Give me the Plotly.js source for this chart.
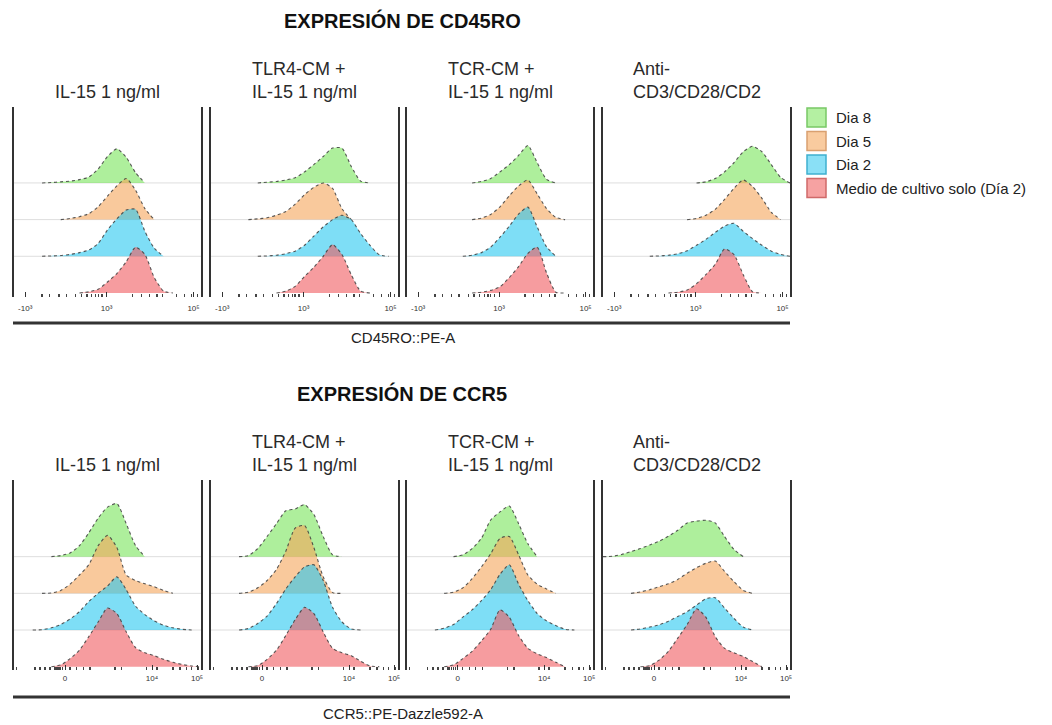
<!DOCTYPE html>
<html><head><meta charset="utf-8">
<script src="https://cdn.plot.ly/plotly-3.0.1.min.js"></script>
<style>html,body{margin:0;padding:0;background:#fff}#chart{width:1052px;height:725px}</style>
</head><body><div id="chart"></div>
<script>
// ---------------- DATA ----------------
const xGrid = [0,5,10,15,20,25,30,35,40,45,50,55,60,65,70,75,80,85,90,95,100];
const panelTitles = ["IL-15 1 ng/ml", "TLR4-CM +<br>IL-15 1 ng/ml", "TCR-CM +<br>IL-15 1 ng/ml", "Anti-<br>CD3/CD28/CD2"];
const seriesNames = ["Dia 8", "Dia 5", "Dia 2", "Medio de cultivo solo (Día 2)"];
const markerTitles = ["EXPRESIÓN DE CD45RO", "EXPRESIÓN DE CCR5"];
const axisTitles = ["CD45RO::PE-A", "CCR5::PE-Dazzle592-A"];

const cd45roTickVals = [6, 49.5, 96];
const cd45roTickText = ["-10³", "10³", "10⁵"];
const cd45roMinorTicks = [0, 15, 19, 24, 28, 33, 36, 39, 41.5, 43.5, 45, 47, 63.5, 68, 72.5, 76.5, 79.5, 87, 91, 95, 98, 100];
const ccr5TickVals = [27.3, 73.8, 97.9];
const ccr5TickText = ["0", "10⁴", "10⁵"];
const ccr5MinorTicks = [1.4, 11.2, 13.9, 16.6, 19.3, 22, 23, 24, 25, 26, 29.9, 33.5, 37, 40.6, 54, 57.6, 71, 76.4, 85, 88.8, 92.4, 95, 98.6];

// CD45RO histograms (one row per panel: IL-15, TLR4-CM, TCR-CM, Anti-CD3/CD28/CD2)
const cd45ro_dia8 = [
  [0,0,0,0,0.01,0.03,0.05,0.09,0.16,0.38,0.72,0.93,0.70,0.28,0,0,0,0,0,0,0],
  [0,0,0,0,0,0,0.02,0.04,0.08,0.14,0.30,0.50,0.72,0.95,0.95,0.45,0.05,0,0,0,0],
  [0,0,0,0,0,0,0,0,0.04,0.12,0.30,0.50,0.75,1.02,0.55,0.10,0,0,0,0,0],
  [0,0,0,0,0,0,0,0,0,0,0,0.03,0.12,0.30,0.55,0.85,1.00,0.85,0.50,0.15,0]
];
const cd45ro_dia5 = [
  [0,0,0,0,0,0,0.03,0.08,0.16,0.35,0.64,0.92,1.12,0.80,0.30,0,0,0,0,0,0],
  [0,0,0,0,0,0.02,0.05,0.12,0.22,0.42,0.68,0.88,1.00,0.85,0.30,0,0,0,0,0,0],
  [0,0,0,0,0,0,0,0,0.04,0.14,0.35,0.65,0.92,1.08,0.70,0.30,0.06,0,0,0,0],
  [0,0,0,0,0,0,0,0,0,0,0.03,0.12,0.28,0.55,0.85,1.08,0.90,0.58,0.20,0,0]
];
const cd45ro_dia2 = [
  [0,0,0,0,0.01,0.02,0.05,0.10,0.17,0.35,0.72,1.02,1.26,1.28,0.68,0.22,0,0,0,0,0],
  [0,0,0,0,0,0,0.01,0.03,0.07,0.14,0.30,0.55,0.80,1.00,1.12,1.00,0.62,0.30,0.04,0,0],
  [0,0,0,0,0,0,0,0.03,0.10,0.25,0.52,0.82,1.15,1.34,0.80,0.26,0,0,0,0,0],
  [0,0,0,0,0,0,0.01,0.03,0.07,0.15,0.30,0.46,0.65,0.82,0.90,0.68,0.48,0.30,0.14,0.05,0]
];
const cd45ro_medio = [
  [0,0,0,0,0,0,0,0,0.03,0.10,0.30,0.53,0.85,1.25,1.05,0.42,0.05,0,0,0,0],
  [0,0,0,0,0,0,0,0,0.05,0.18,0.45,0.70,1.00,1.32,1.05,0.50,0.05,0,0,0,0],
  [0,0,0,0,0,0,0,0,0.02,0.07,0.17,0.42,0.72,1.08,1.25,0.55,0.02,0,0,0,0],
  [0,0,0,0,0,0,0,0,0.02,0.08,0.25,0.50,0.78,1.20,1.05,0.50,0.03,0,0,0,0]
];

// CCR5 histograms
const ccr5_dia8 = [
  [0,0,0,0,0,0.03,0.10,0.30,0.65,1.05,1.35,1.45,0.90,0.30,0,0,0,0,0,0,0],
  [0,0,0,0,0.03,0.22,0.55,0.90,1.25,1.30,1.42,1.15,0.55,0.05,0,0,0,0,0,0,0],
  [0,0,0,0,0,0,0.05,0.22,0.50,1.00,1.22,1.38,0.90,0.35,0,0,0,0,0,0,0],
  [0,0.01,0.06,0.14,0.22,0.32,0.42,0.56,0.72,0.92,0.97,0.99,0.92,0.55,0.20,0,0,0,0,0,0]
];
const ccr5_dia5 = [
  [0,0,0,0,0.01,0.08,0.25,0.50,0.78,1.30,1.58,1.25,0.50,0.35,0.26,0.18,0.08,0,0,0,0],
  [0,0,0,0,0.03,0.15,0.35,0.65,1.15,1.78,1.85,1.25,0.45,0.02,0,0,0,0,0,0,0],
  [0,0,0,0,0,0.03,0.15,0.40,0.72,1.08,1.50,1.55,1.05,0.50,0.25,0.12,0,0,0,0,0],
  [0,0,0,0,0.04,0.10,0.18,0.26,0.38,0.55,0.70,0.82,0.88,0.60,0.32,0.08,0,0,0,0,0]
];
const ccr5_dia2 = [
  [0,0,0,0.01,0.06,0.15,0.30,0.50,0.78,1.00,1.20,1.45,1.10,0.65,0.42,0.25,0.13,0.06,0.02,0,0],
  [0,0,0,0,0.04,0.18,0.38,0.72,1.12,1.45,1.72,1.78,1.35,0.62,0.22,0.03,0,0,0,0,0],
  [0,0,0,0,0.05,0.15,0.35,0.55,0.80,1.10,1.52,1.78,1.25,0.80,0.45,0.25,0.12,0.02,0,0,0],
  [0,0,0,0,0.03,0.08,0.14,0.24,0.37,0.50,0.68,0.85,0.88,0.60,0.32,0.08,0,0,0,0,0]
];
const ccr5_medio = [
  [0,0,0,0,0,0.05,0.22,0.45,0.82,1.22,1.60,1.45,0.95,0.52,0.38,0.30,0.20,0.12,0.06,0.02,0],
  [0,0,0,0,0,0.03,0.20,0.45,0.85,1.28,1.62,1.45,0.95,0.50,0.38,0.30,0.15,0.02,0,0,0],
  [0,0,0,0,0,0.05,0.22,0.42,0.70,1.02,1.55,1.35,0.85,0.50,0.35,0.25,0.12,0,0,0,0],
  [0,0,0,0,0,0.03,0.18,0.42,0.78,1.15,1.58,1.35,0.82,0.50,0.38,0.28,0.14,0,0,0,0]
];

// ---------------- STYLE / LAYOUT ----------------
const W = 1052, H = 725;
const FONT = "Liberation Sans, Arial, sans-serif";
const fillColors = ["rgba(120,228,90,0.6)", "rgba(245,165,90,0.6)", "rgba(40,200,240,0.6)", "rgba(240,90,95,0.6)"];
const legendFill = ["#b4f0a2", "#f9cb9f", "#8ae0f6", "#f6a2a2"];
const legendEdge = ["#78c866", "#d9a070", "#3fb0cf", "#cf6a6a"];
const panelLeft = [14, 211, 407, 603], panelRight = [201, 398, 593, 790];
const rowTop = [107, 480], rowBottom = [297, 670];
const rowRange = [[-0.11, 5.07], [-0.09, 5.09]];
const px = v => v / W, py = v => 1 - v / H;

const rows = [
  {series: [cd45ro_dia8, cd45ro_dia5, cd45ro_dia2, cd45ro_medio], tv: cd45roTickVals, tt: cd45roTickText, minor: cd45roMinorTicks, standoff: 5},
  {series: [ccr5_dia8, ccr5_dia5, ccr5_dia2, ccr5_medio], tv: ccr5TickVals, tt: ccr5TickText, minor: ccr5MinorTicks, standoff: 2}
];

const traces = [];
const layout = {
  width: W, height: H, margin: {l: 0, r: 0, t: 0, b: 0},
  paper_bgcolor: "#fff", plot_bgcolor: "rgba(0,0,0,0)",
  showlegend: false, font: {family: FONT, color: "#222"},
  shapes: [], annotations: []
};

rows.forEach((row, r) => {
  for (let p = 0; p < 4; p++) {
    const n = r * 4 + p + 1;
    const xa = "x" + (n === 1 ? "" : n), ya = "y" + (n === 1 ? "" : n);
    layout["xaxis" + (n === 1 ? "" : n)] = {
      domain: [px(panelLeft[p]), px(panelRight[p])], range: [0, 100], anchor: ya,
      showgrid: false, zeroline: false, showline: false, fixedrange: true,
      tickmode: "array", tickvals: row.tv, ticktext: row.tt,
      ticks: "inside", ticklen: 5, tickwidth: 1, tickcolor: "#333",
      tickfont: {size: 8, color: "#333", family: FONT}, ticklabelstandoff: row.standoff,
      minor: {tickmode: "array", tickvals: row.minor, ticks: "inside", ticklen: 3, tickwidth: 1.3, tickcolor: "#444", showgrid: false}
    };
    layout["yaxis" + (n === 1 ? "" : n)] = {
      domain: [py(rowBottom[r]), py(rowTop[r])], range: rowRange[r], anchor: xa,
      showgrid: false, zeroline: false, showticklabels: false, ticks: "", fixedrange: true,
      showline: true, mirror: true, linecolor: "#333", linewidth: 2
    };
    // baselines
    for (let k = 1; k <= 3; k++) {
      traces.push({x: [0, 100], y: [k, k], xaxis: xa, yaxis: ya, mode: "lines",
        line: {color: "#dedede", width: 1}, hoverinfo: "skip", showlegend: false});
    }
    // ridges: top (Dia 8) to bottom (Medio)
    row.series.forEach((ser, s) => {
      const h = ser[p], off = 3 - s;
      let a = h.findIndex(v => v > 0), b = h.length - 1 - [...h].reverse().findIndex(v => v > 0);
      a = Math.max(0, a - 1); b = Math.min(h.length - 1, b + 1);
      const xs = xGrid.slice(a, b + 1), ys = h.slice(a, b + 1).map(v => v + off);
      traces.push({x: xs, y: ys, xaxis: xa, yaxis: ya, mode: "lines", fill: "toself",
        fillcolor: fillColors[s], line: {color: "rgba(60,60,60,0.85)", width: 1.1, dash: "dot", shape: "spline", smoothing: 0.6},
        name: seriesNames[s], hoverinfo: "name", showlegend: false});
    });
    // panel header
    layout.annotations.push({xref: "paper", yref: "paper",
      x: px((panelLeft[p] + panelRight[p]) / 2), y: py(r === 0 ? 104 : 477),
      xanchor: "center", yanchor: "bottom", align: "left", showarrow: false,
      text: panelTitles[p], font: {size: 18, family: FONT, color: "#2a2a2a"}});
  }
  // section title
  layout.annotations.push({xref: "paper", yref: "paper", x: px(402), y: py(r === 0 ? 20 : 393),
    xanchor: "center", yanchor: "middle", showarrow: false,
    text: "<b>" + markerTitles[r] + "</b>", font: {size: 20, family: FONT, color: "#111"}});
  // axis title
  layout.annotations.push({xref: "paper", yref: "paper", x: px(403), y: py(r === 0 ? 338 : 713),
    xanchor: "center", yanchor: "middle", showarrow: false,
    text: axisTitles[r], font: {size: 15, family: FONT, color: "#222"}});
  // thick underline
  layout.shapes.push({type: "line", xref: "paper", yref: "paper",
    x0: px(13), x1: px(790), y0: py(r === 0 ? 323 : 697), y1: py(r === 0 ? 323 : 697),
    line: {color: "#333", width: 3}});
});

// custom legend
seriesNames.forEach((name, i) => {
  const top = 108 + 23.5 * i;
  layout.shapes.push({type: "rect", xref: "paper", yref: "paper",
    x0: px(807), x1: px(826), y0: py(top + 19), y1: py(top),
    fillcolor: legendFill[i], line: {color: legendEdge[i], width: 1.5}});
  layout.annotations.push({xref: "paper", yref: "paper", x: px(834), y: py(top + 9.5),
    xanchor: "left", yanchor: "middle", showarrow: false, text: name,
    font: {size: 15, family: FONT, color: "#222"}});
});

Plotly.newPlot("chart", traces, layout, {displayModeBar: false, staticPlot: true});
</script>
</body></html>
